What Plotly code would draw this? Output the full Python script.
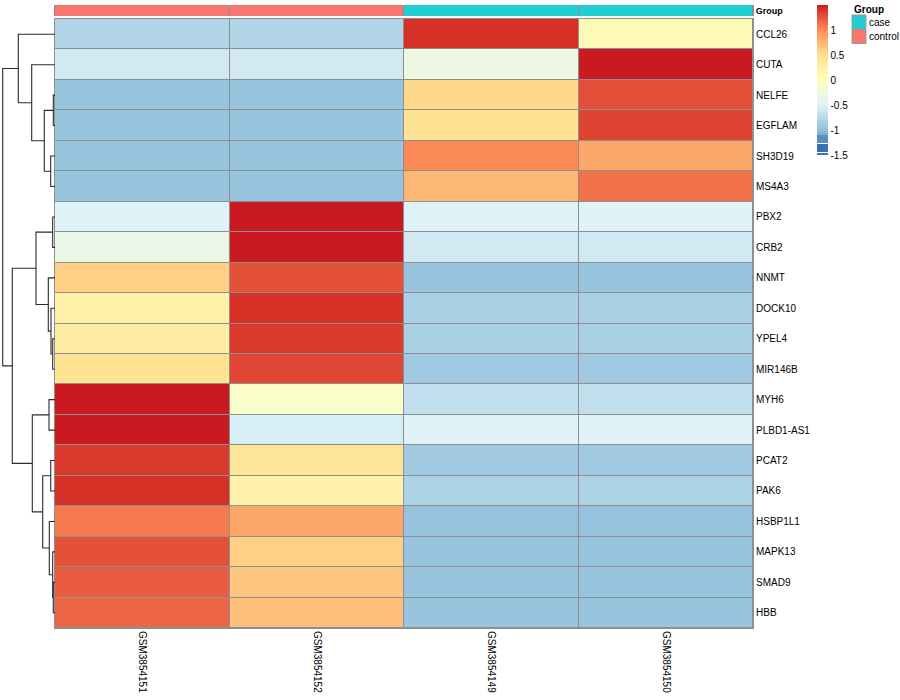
import plotly.graph_objects as go

# ---------------- data ----------------
samples = ["GSM3854151", "GSM3854152", "GSM3854149", "GSM3854150"]
groups = ["control", "control", "case", "case"]
genes = ["CCL26", "CUTA", "NELFE", "EGFLAM", "SH3D19", "MS4A3", "PBX2", "CRB2",
         "NNMT", "DOCK10", "YPEL4", "MIR146B", "MYH6", "PLBD1-AS1", "PCAT2", "PAK6",
         "HSBP1L1", "MAPK13", "SMAD9", "HBB"]

gsm3854151 = [-0.80, -0.60, -0.95, -0.95, -0.95, -0.95, -0.50, -0.35, 0.60, 0.25,
              0.30, 0.45, 1.50, 1.50, 1.38, 1.42, 1.08, 1.27, 1.22, 1.18]
gsm3854152 = [-0.80, -0.60, -0.95, -0.95, -0.95, -0.95, 1.50, 1.50, 1.27, 1.42,
              1.38, 1.32, -0.10, -0.55, 0.40, 0.20, 0.85, 0.60, 0.65, 0.70]
gsm3854149 = [1.42, -0.30, 0.55, 0.45, 1.02, 0.75, -0.50, -0.60, -0.95, -0.85,
              -0.85, -0.90, -0.70, -0.50, -0.90, -0.82, -0.97, -0.95, -0.95, -0.95]
gsm3854150 = [0.10, 1.50, 1.28, 1.33, 0.85, 1.12, -0.50, -0.60, -0.95, -0.85,
              -0.85, -0.90, -0.70, -0.50, -0.90, -0.82, -0.97, -0.95, -0.95, -0.95]

# row dendrogram linkage: (child a, child b, height); new nodes numbered from 20
row_linkage = [
    (2, 3, 1.7), (4, 5, 4.3), (20, 21, 10.7), (1, 22, 23.3), (0, 23, 36.7),
    (6, 7, 2.3), (10, 11, 2.3), (9, 26, 4.0), (8, 27, 6.7), (25, 28, 19.0),
    (12, 13, 6.0), (14, 15, 4.3), (18, 19, 1.7), (17, 32, 2.3), (16, 33, 5.7),
    (31, 34, 12.3), (30, 35, 22.7), (29, 36, 42.7), (24, 37, 52.3),
]

colorbar_ticks = [-1.4999, -1, -0.5, 0, 0.5, 1, 1.4999]
colorbar_text = ["-1.5", "-1", "-0.5", "0", "0.5", "1", "1.5"]

# ---------------- figure ----------------
W, H = 900, 700
px = lambda v: v / W
py = lambda v: 1 - v / H
ZMIN, ZMAX = -1.5, 1.5

z = [list(r) for r in zip(gsm3854151, gsm3854152, gsm3854149, gsm3854150)]
scale_stops = [
    (-1.5, "#4472B4"), (-1.466, "#4472B4"), (-1.465, "#FFFFFF"), (-1.447, "#FFFFFF"),
    (-1.446, "#3F6DB0"), (-1.29, "#3F6DB0"), (-1.289, "#FFFFFF"), (-1.262, "#FFFFFF"),
    (-1.261, "#5B8FC4"), (-1.1, "#5B8FC4"), (-1.099, "#7DAED4"), (-1.0, "#91BFDB"),
    (-0.5, "#E0F3F8"), (0.0, "#FFFFBF"), (0.5, "#FEE090"), (1.0, "#FC8D59"),
    (1.42, "#D73027"), (1.5, "#C81A20"),
]
colorscale = [[(v - ZMIN) / (ZMAX - ZMIN), c] for v, c in scale_stops]
grid_col = "#8E8E8E"
group_colors = {"case": "#22CDD4", "control": "#F8766D"}

fig = go.Figure()

fig.add_trace(go.Heatmap(
    z=z, x=list(range(len(samples))), y=list(range(len(genes))),
    zmin=ZMIN, zmax=ZMAX, colorscale=colorscale, xgap=1, ygap=1,
    xaxis="x", yaxis="y", hoverinfo="skip",
    colorbar=dict(x=px(817), xanchor="left", xref="paper", y=py(5), yanchor="top",
                  len=150 / H, lenmode="fraction", thickness=11, xpad=0, ypad=0,
                  outlinewidth=0, tickvals=colorbar_ticks, ticktext=colorbar_text,
                  ticks="", tickfont=dict(size=10, color="#000")),
))

# annotation bar
gcode = [[0 if g == "case" else 1 for g in groups]]
fig.add_trace(go.Heatmap(
    z=gcode, x=list(range(len(samples))), y=[0], zmin=0, zmax=1,
    colorscale=[[0, group_colors["case"]], [0.5, group_colors["case"]],
                [0.5, group_colors["control"]], [1, group_colors["control"]]],
    showscale=False, xgap=1, ygap=0, xaxis="x", yaxis="y2", hoverinfo="skip",
))

# dendrogram
ypos = {i: float(i) for i in range(len(genes))}
hpos = {i: 0.0 for i in range(len(genes))}
dx, dy = [], []
for k, (a, b, h) in enumerate(row_linkage):
    nid = len(genes) + k
    dx += [hpos[a], h, h, hpos[b], None]
    dy += [ypos[a], ypos[a], ypos[b], ypos[b], None]
    ypos[nid] = (ypos[a] + ypos[b]) / 2
    hpos[nid] = h
fig.add_trace(go.Scatter(x=dx, y=dy, mode="lines", xaxis="x3", yaxis="y",
                         line=dict(color="#2b2b2b", width=1.1), hoverinfo="skip",
                         showlegend=False, cliponaxis=False))

fig.update_layout(
    width=W, height=H, margin=dict(l=0, r=0, t=0, b=0, autoexpand=False),
    paper_bgcolor="white", plot_bgcolor=grid_col, showlegend=False,
    font=dict(family="Liberation Sans, Arial, sans-serif", size=10, color="#000"),
    xaxis=dict(domain=[px(55), px(753)], range=[-0.5, 3.5], anchor="y", automargin=False,
               tickvals=list(range(len(samples))), ticktext=samples, tickangle=90,
               showgrid=False, zeroline=False, ticks="", showline=True, mirror=True,
               linecolor=grid_col, linewidth=1, tickfont=dict(size=10)),
    yaxis=dict(domain=[py(628), py(19)], range=[19.5, -0.5], anchor="x", side="right",
               automargin=False,
               tickvals=list(range(len(genes))), ticktext=genes, showgrid=False,
               zeroline=False, ticks="", showline=True, mirror=True, linecolor=grid_col,
               linewidth=1, tickfont=dict(size=10)),
    yaxis2=dict(domain=[py(16), py(5)], range=[-0.5, 0.5], anchor="x", side="right",
                automargin=False,
                tickvals=[0], ticktext=["<b>Group</b>"], showgrid=False, zeroline=False,
                ticks="", showline=True, mirror=True, linecolor=grid_col, linewidth=1,
                tickfont=dict(size=9)),
    xaxis3=dict(domain=[px(2), px(55)], range=[53, 0], anchor="y", visible=False,
                automargin=False, showgrid=False, zeroline=False),
)

# white background behind dendrogram
fig.add_shape(type="rect", xref="x3 domain", yref="y domain", x0=0, x1=1, y0=-0.01, y1=1.01,
              fillcolor="white", line=dict(width=0), layer="below")

# group legend
fig.add_annotation(x=px(852), y=py(10), xref="paper", yref="paper", text="<b>Group</b>",
                   showarrow=False, xanchor="left", yanchor="middle", font=dict(size=10))
for i, g in enumerate(["case", "control"]):
    top = 15 + i * 14.5
    fig.add_shape(type="rect", xref="paper", yref="paper", x0=px(852), x1=px(866),
                  y0=py(top + 14), y1=py(top), fillcolor=group_colors[g],
                  line=dict(color="#9a9a9a", width=1))
    fig.add_annotation(x=px(867), y=py(top + 7), xref="paper", yref="paper", text=g,
                       showarrow=False, xanchor="left", yanchor="middle", font=dict(size=10))

fig.write_html("out.html", config={"displayModeBar": False},
               post_script="document.body.style.margin='0';document.body.style.overflow='hidden';")
